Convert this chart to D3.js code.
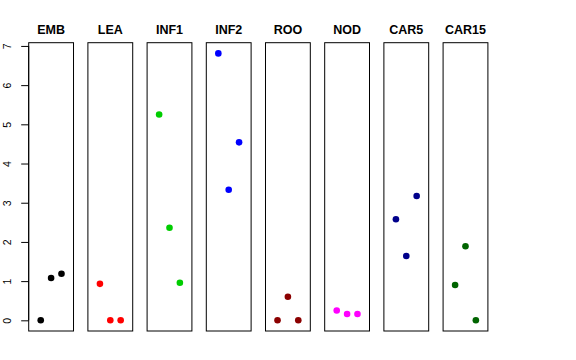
<!DOCTYPE html>
<html>
<head>
<meta charset="utf-8">
<script src="https://cdn.jsdelivr.net/npm/d3@7"></script>
<style>
  body { margin: 0; background: #fff; }
  text { font-family: "Liberation Sans", Arial, sans-serif; }
</style>
</head>
<body>
<script>
var WIDTH = 576, HEIGHT = 360;
var PLOT_TOP = 42.7, PLOT_BOTTOM = 331;
var PANEL_LEFT = 28.7, PANEL_RIGHT = 487.9;

// one panel per tissue, three replicate values each
var tissues = ['EMB', 'LEA', 'INF1', 'INF2', 'ROO', 'NOD', 'CAR5', 'CAR15'];
var colors = ['#000000', '#ff0000', '#00cd00', '#0000ff', '#8b0000', '#ff00ff', '#00008b', '#006400'];
var EMB = [0, 1.08, 1.19];
var LEA = [0.93, 0, 0];
var INF1 = [5.25, 2.36, 0.96];
var INF2 = [6.81, 3.33, 4.54];
var ROO = [0, 0.60, 0];
var NOD = [0.25, 0.16, 0.16];
var CAR5 = [2.58, 1.64, 3.17];
var CAR15 = [0.90, 1.89, 0];
var values = [EMB, LEA, INF1, INF2, ROO, NOD, CAR5, CAR15];
var yTicks = [0, 1, 2, 3, 4, 5, 6, 7];

var svg = d3.select('body').append('svg')
    .attr('width', WIDTH)
    .attr('height', HEIGHT);

var panel = d3.scaleBand()
    .domain(tissues)
    .range([PANEL_LEFT, PANEL_RIGHT])
    .paddingInner(0.243)
    .paddingOuter(0);

var yMax = d3.max(values, function (v) { return d3.max(v); });
var pad = yMax * 0.04;
var y = d3.scaleLinear()
    .domain([-pad, yMax + pad])
    .range([PLOT_BOTTOM, PLOT_TOP]);

var x = d3.scaleLinear()
    .domain([-0.16, 4.16])
    .range([0, panel.bandwidth()]);

var data = tissues.map(function (t, i) {
    return { name: t, color: colors[i], values: values[i] };
});

var g = svg.selectAll('.panel')
    .data(data)
    .enter()
    .append('g')
    .attr('class', 'panel')
    .attr('transform', function (d) { return 'translate(' + panel(d.name) + ',0)'; });

g.append('rect')
    .attr('x', 0)
    .attr('y', PLOT_TOP)
    .attr('width', panel.bandwidth())
    .attr('height', PLOT_BOTTOM - PLOT_TOP)
    .style('fill', 'none')
    .style('stroke', '#000')
    .style('stroke-width', 1);

g.append('text')
    .attr('x', panel.bandwidth() / 2)
    .attr('y', 34)
    .attr('text-anchor', 'middle')
    .style('font-size', '12.5px')
    .style('font-weight', 'bold')
    .text(function (d) { return d.name; });

g.selectAll('circle')
    .data(function (d) {
        return d.values.map(function (v, j) { return { v: v, j: j + 1, color: d.color }; });
    })
    .enter()
    .append('circle')
    .attr('cx', function (d) { return x(d.j); })
    .attr('cy', function (d) { return y(d.v); })
    .attr('r', 3.3)
    .style('fill', function (d) { return d.color; });

// y axis on the first panel, labels turned like base R
var axis = d3.axisLeft(y)
    .tickValues(yTicks)
    .tickSize(7.5)
    .tickPadding(0)
    .tickFormat(d3.format('d'));

var ax = svg.append('g')
    .attr('transform', 'translate(' + PANEL_LEFT + ',0)')
    .call(axis);
ax.select('.domain')
    .attr('d', 'M0,' + y(0) + 'V' + y(7));
ax.selectAll('.tick line').style('stroke', '#000');
ax.selectAll('.tick text')
    .attr('x', null)
    .attr('dy', null)
    .attr('y', 0)
    .attr('text-anchor', 'middle')
    .attr('transform', 'translate(-17.7,0) rotate(-90)')
    .style('font-family', '"Liberation Sans", Arial, sans-serif')
    .style('font-size', '10.5px')
    .style('fill', '#000');
</script>
</body>
</html>
